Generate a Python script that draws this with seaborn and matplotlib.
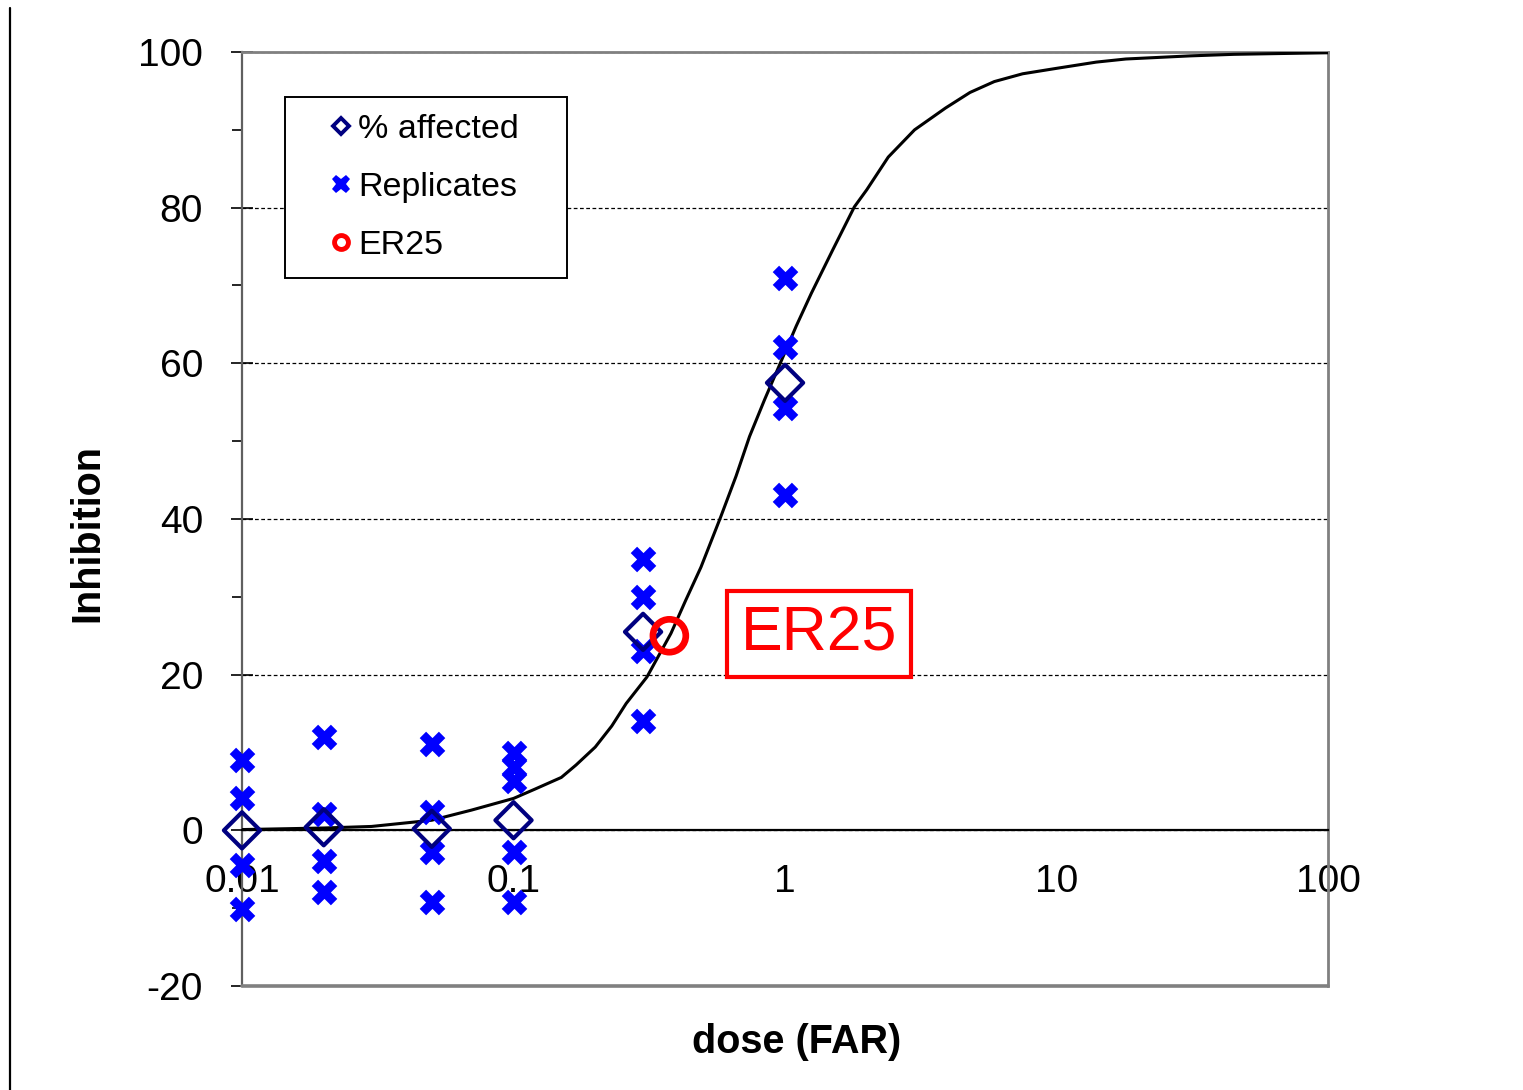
import numpy as np
import pandas as pd
import matplotlib.pyplot as plt
import seaborn as sns
from matplotlib.lines import Line2D
from matplotlib.ticker import FixedLocator, FuncFormatter, MultipleLocator, LogLocator, NullFormatter

# Data
rep_dose = [0.01] * 4 + [0.02] * 4 + [0.05] * 4 + [0.1] * 5 + [0.3] * 4 + [1] * 4
rep_inhib = [9.0, 4.1, -4.5, -10.1,
             12.0, 2.1, -3.9, -7.9,
             11.1, 2.4, -2.8, -9.2,
             10.0, 8.1, 6.4, -2.8, -9.2,
             34.9, 30.0, 23.1, 14.1,
             70.9, 62.1, 54.2, 43.1]

mean_dose = [0.01, 0.02, 0.05, 0.1, 0.3, 1]
mean_inhib = [0.0, 0.4, 0.2, 1.3, 25.5, 57.5]

curve_dose = [0.01, 0.02, 0.03, 0.05, 0.07, 0.1, 0.12, 0.15, 0.17, 0.2, 0.23, 0.26, 0.31,
              0.38, 0.43, 0.49, 0.58, 0.66, 0.74, 0.84, 0.96, 1.1, 1.25, 1.5, 1.8, 2.0,
              2.4, 3.0, 3.9, 4.8, 5.9, 7.5, 10, 14, 18, 31, 45, 66, 100]
curve_inhib = [0.1, 0.3, 0.5, 1.3, 2.6, 4.1, 5.3, 6.8, 8.4, 10.7, 13.4, 16.3, 19.7,
               25.3, 29.5, 33.8, 40.3, 45.5, 50.6, 55.3, 60.0, 64.8, 69.0, 74.6, 80.1, 82.3,
               86.5, 90.0, 92.8, 94.8, 96.2, 97.2, 97.9, 98.7, 99.1, 99.5, 99.7, 99.8, 99.9]

er25_dose = [0.375]
er25_inhib = [25.0]

reps = pd.DataFrame({'dose': rep_dose, 'inhibition': rep_inhib})
means = pd.DataFrame({'dose': mean_dose, 'inhibition': mean_inhib})
curve = pd.DataFrame({'dose': curve_dose, 'inhibition': curve_inhib})

sns.set_style('white')
plt.rcParams['font.family'] = ['Liberation Sans', 'DejaVu Sans']
plt.rcParams['axes.unicode_minus'] = False
plt.rcParams['text.color'] = 'black'
plt.rcParams['axes.labelcolor'] = 'black'
plt.rcParams['xtick.color'] = 'black'
plt.rcParams['ytick.color'] = 'black'

fig = plt.figure(figsize=(15.23, 10.9), dpi=100)
ax = fig.add_axes([0.1589, 0.0954, 0.7131, 0.8569])
ax.set_xscale('log')

# Fitted curve
sns.lineplot(data=curve, x='dose', y='inhibition', color='black', linewidth=2.2,
             sort=False, estimator=None, ax=ax, zorder=3)

# Replicates, means and ER25
sns.scatterplot(data=reps, x='dose', y='inhibition', marker='X', s=340, color='#0000FF',
                linewidth=0, ax=ax, zorder=4, clip_on=False)
sns.scatterplot(data=means, x='dose', y='inhibition', marker='D', s=340,
                facecolor='none', edgecolor='#000080', linewidth=3.0, ax=ax, zorder=5, clip_on=False)
sns.scatterplot(x=er25_dose, y=er25_inhib, marker='o', s=560, facecolor='none',
                edgecolor='#FF0000', linewidth=4.8, ax=ax, zorder=6)

ax.set_xlim(0.01, 100)
ax.set_ylim(-20, 100)

# Axes styling
for side in ['top', 'right']:
    ax.spines[side].set_color('#808080')
    ax.spines[side].set_linewidth(2)
ax.spines['left'].set_color('#606060')
ax.spines['left'].set_linewidth(1.6)
ax.spines['bottom'].set_position(('data', 0))
ax.spines['bottom'].set_color('black')
ax.spines['bottom'].set_linewidth(1.6)
ax.axhline(-20, color='#808080', linewidth=2.6, zorder=2.6, clip_on=False)

ax.yaxis.set_major_locator(MultipleLocator(20))
ax.yaxis.set_minor_locator(FixedLocator([-10, 10, 30, 50, 70, 90]))
ax.xaxis.set_major_locator(LogLocator(base=10, numticks=10))
ax.xaxis.set_minor_locator(LogLocator(base=10, subs=np.arange(2, 10), numticks=20))
ax.xaxis.set_major_formatter(FuncFormatter(lambda v, p: '{:g}'.format(v)))
ax.xaxis.set_minor_formatter(NullFormatter())

ax.tick_params(axis='x', which='major', direction='inout', length=18, width=1.2,
               color='black', labelcolor='black', labelsize=28, pad=15)
ax.tick_params(axis='x', which='minor', direction='out', length=8, width=1.2, color='black')
ax.tick_params(axis='y', which='major', direction='inout', length=16, width=1.2,
               color='black', labelcolor='black', labelsize=28, pad=20, left=True)
ax.tick_params(axis='y', which='minor', direction='out', length=7.5, width=1.2,
               color='black', left=True)

ax.yaxis.grid(True, which='major', linestyle=(0, (3, 2)), color='black', linewidth=0.9)
ax.xaxis.grid(False)
ax.set_axisbelow(True)

ax.set_xlabel('dose (FAR)', fontsize=28.5, fontweight='bold', color='black')
ax.set_ylabel('Inhibition', fontsize=28.5, fontweight='bold', color='black')
ax.xaxis.set_label_coords(0.511, -0.04)
ax.yaxis.set_label_coords(-0.125, 0.485)

# ER25 label box
ax.text(0.531, 0.377, 'ER25', transform=ax.transAxes, fontsize=45, color='#FF0000',
        ha='center', va='center', zorder=7,
        bbox=dict(boxstyle='square,pad=0.22', facecolor='white', edgecolor='#FF0000', linewidth=3))

# Legend
handles = [
    Line2D([], [], linestyle='none', marker='D', markersize=8, markerfacecolor='white',
           markeredgecolor='#000080', markeredgewidth=2.8, label='% affected'),
    Line2D([], [], linestyle='none', marker='X', markersize=13, markerfacecolor='#0000FF',
           markeredgewidth=0, label='Replicates'),
    Line2D([], [], linestyle='none', marker='o', markersize=10, markerfacecolor='white',
           markeredgecolor='#FF0000', markeredgewidth=3.5, label='ER25'),
]
leg = ax.legend(handles=handles, loc='upper left', bbox_to_anchor=(0.0396, 0.952, 0.26, 0.0),
                mode='expand', borderaxespad=0, fontsize=24.5, frameon=True, fancybox=False,
                framealpha=1, facecolor='white', edgecolor='black', handlelength=2.3,
                handletextpad=-0.65, borderpad=0.5, labelspacing=0.8)
leg.get_frame().set_linewidth(1.4)
leg.set_zorder(8)

# Thin vertical rule on the left edge of the figure
fig.add_artist(Line2D([10 / 1523, 10 / 1523], [0, 1 - 8 / 1090], color='black', linewidth=1.6))

fig.savefig('out.png', dpi=100)
